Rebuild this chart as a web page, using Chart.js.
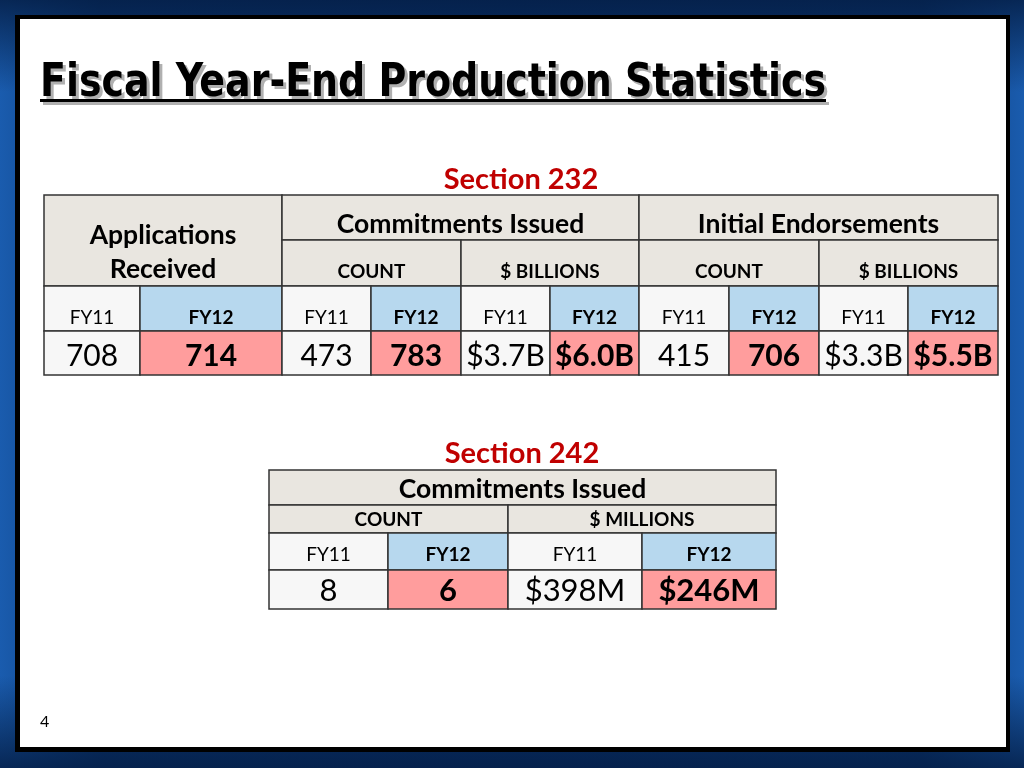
<!DOCTYPE html>
<html>
<head>
<meta charset="utf-8">
<script src="https://cdn.jsdelivr.net/npm/chart.js@4/dist/chart.umd.min.js"></script>
<style>
  html, body { margin: 0; padding: 0; }
  body {
    width: 1024px; height: 768px; overflow: hidden;
    background:
      linear-gradient(to bottom, rgba(4,30,70,0.85), rgba(4,30,70,0) 12%, rgba(4,30,70,0) 88%, rgba(4,30,70,0.85)),
      linear-gradient(to right, #1a5cae, #0c3a78 10%, #0a3470 50%, #0c3a78 90%, #1a5cae);
  }
  canvas { display: block; }
</style>
</head>
<body>
<canvas id="slide" width="1024" height="768"></canvas>
<script>
// slide text
const pageTitle = 'Fiscal Year-End Production Statistics';
const pageNumber = '4';

// Section 232
const sec232Title = 'Section 232';
const sec232Groups = ['Commitments Issued', 'Initial Endorsements'];
const sec232Measures = ['COUNT', '$ BILLIONS', 'COUNT', '$ BILLIONS'];
const years = ['FY11', 'FY12'];
const appsReceived = [708, 714];
const commitCount232 = [473, 783];
const commitBillions232 = [3.7, 6.0];
const endorseCount232 = [415, 706];
const endorseBillions232 = [3.3, 5.5];

// Section 242
const sec242Title = 'Section 242';
const sec242Group = 'Commitments Issued';
const sec242Measures = ['COUNT', '$ MILLIONS'];
const commitCount242 = [8, 6];
const commitMillions242 = [398, 246];

const fmtCount = v => String(v);
const fmtB = v => '$' + v.toFixed(1) + 'B';
const fmtM = v => '$' + v + 'M';

// layout (in scale units, same as page pixels)
const t1Cols = [44, 140, 282, 371, 461, 550, 639, 729, 819, 908, 998];
const t1Rows = [195, 240, 286, 331, 375];
const t2Cols = [269, 388, 508, 642, 776];
const t2Rows = [470, 505, 533, 570, 609];

const HEAD = '#e9e6e0', OLD = '#f7f7f7', NEW_HEAD = '#b7d8ee', NEW_VAL = '#ff9d9d';
const FONT = 'Lato, "Open Sans", sans-serif';

const tablePlugin = {
  id: 'tables',
  beforeDraw(chart) {
    const ctx = chart.ctx;
    const sx = chart.scales.x, sy = chart.scales.y;
    const X = v => sx.getPixelForValue(v);
    const Y = v => sy.getPixelForValue(v);

    function text(str, x, y, font, color, align) {
      ctx.font = font;
      ctx.fillStyle = color || '#000';
      ctx.textAlign = align || 'center';
      ctx.textBaseline = 'middle';
      ctx.fillText(str, X(x), Y(y));
    }
    function cell(x0, y0, x1, y1, fill, str, font, ty) {
      ctx.fillStyle = fill;
      ctx.fillRect(X(x0), Y(y0), X(x1) - X(x0), Y(y1) - Y(y0));
      ctx.strokeStyle = '#333';
      ctx.lineWidth = 1.5;
      ctx.strokeRect(X(x0), Y(y0), X(x1) - X(x0), Y(y1) - Y(y0));
      if (str !== undefined) text(str, (x0 + x1) / 2, ty, font, '#000');
    }

    // white slide panel with black frame
    ctx.save();
    ctx.fillStyle = '#000';
    ctx.fillRect(X(15), Y(15), X(1010) - X(15), Y(752) - Y(15));
    ctx.fillStyle = '#fff';
    ctx.fillRect(X(20), Y(19), X(1006) - X(20), Y(747) - Y(19));

    // title with shadow and underline
    ctx.font = 'bold 46px "DejaVu Sans Condensed", "Liberation Sans", sans-serif';
    const w = ctx.measureText(pageTitle).width;
    const k = (X(826) - X(40)) / w;
    [['#b0b0b0', 3], ['#000', 0]].forEach(([c, o]) => {
      ctx.save();
      ctx.translate(X(40) + o, Y(96) + o);
      ctx.scale(k, 1);
      ctx.fillStyle = c;
      ctx.textAlign = 'left';
      ctx.textBaseline = 'alphabetic';
      ctx.fillText(pageTitle, 0, 0);
      ctx.restore();
      ctx.fillStyle = c;
      ctx.fillRect(X(40) + o, Y(99) + o, X(826) - X(40), 3);
    });

    // Section 232
    text(sec232Title, 521, 180, 'bold 29px ' + FONT, '#c00000');
    const c = t1Cols, r = t1Rows;
    const hFont = 'bold 26.5px ' + FONT, mFont = 'bold 19px ' + FONT;
    const yOld = '19px ' + FONT, yNew = 'bold 19px ' + FONT;
    const vOld = '30px ' + FONT, vNew = 'bold 30px ' + FONT;
    cell(c[0], r[0], c[2], r[2], HEAD);
    text('Applications', (c[0] + c[2]) / 2, 235, hFont);
    text('Received', (c[0] + c[2]) / 2, 269, hFont);
    cell(c[2], r[0], c[6], r[1], HEAD, sec232Groups[0], hFont, 224);
    cell(c[6], r[0], c[10], r[1], HEAD, sec232Groups[1], hFont, 224);
    sec232Measures.forEach((m, i) => {
      cell(c[2 + 2 * i], r[1], c[4 + 2 * i], r[2], HEAD, m, mFont, 272);
    });
    const rows232 = [
      appsReceived.map(fmtCount), commitCount232.map(fmtCount), commitBillions232.map(fmtB),
      endorseCount232.map(fmtCount), endorseBillions232.map(fmtB)
    ];
    rows232.forEach((vals, g) => {
      years.forEach((yr, j) => {
        const x0 = c[2 * g + j], x1 = c[2 * g + j + 1];
        cell(x0, r[2], x1, r[3], j ? NEW_HEAD : OLD, yr, j ? yNew : yOld, 318);
        cell(x0, r[3], x1, r[4], j ? NEW_VAL : OLD, vals[j], j ? vNew : vOld, 356);
      });
    });

    // Section 242
    text(sec242Title, 522, 454, 'bold 29px ' + FONT, '#c00000');
    const c2 = t2Cols, r2 = t2Rows;
    cell(c2[0], r2[0], c2[4], r2[1], HEAD, sec242Group, hFont, 489);
    sec242Measures.forEach((m, i) => {
      cell(c2[2 * i], r2[1], c2[2 * i + 2], r2[2], HEAD, m, mFont, 520);
    });
    const rows242 = [commitCount242.map(fmtCount), commitMillions242.map(fmtM)];
    rows242.forEach((vals, g) => {
      years.forEach((yr, j) => {
        const x0 = c2[2 * g + j], x1 = c2[2 * g + j + 1];
        cell(x0, r2[2], x1, r2[3], j ? NEW_HEAD : OLD, yr, j ? yNew : yOld, 555);
        cell(x0, r2[3], x1, r2[4], j ? NEW_VAL : OLD, vals[j], j ? 'bold 31px ' + FONT : '31px ' + FONT, 591);
      });
    });

    text(pageNumber, 40, 722, '16px ' + FONT, '#000', 'left');
    ctx.restore();
  }
};

new Chart(document.getElementById('slide').getContext('2d'), {
  type: 'scatter',
  data: { datasets: [] },
  options: {
    responsive: false,
    animation: false,
    events: [],
    layout: { padding: 0 },
    plugins: { legend: { display: false }, tooltip: { enabled: false } },
    scales: {
      x: { type: 'linear', min: 0, max: 1024, offset: false, display: false },
      y: { type: 'linear', min: 0, max: 768, reverse: true, offset: false, display: false }
    }
  },
  plugins: [tablePlugin]
});
</script>
</body>
</html>
